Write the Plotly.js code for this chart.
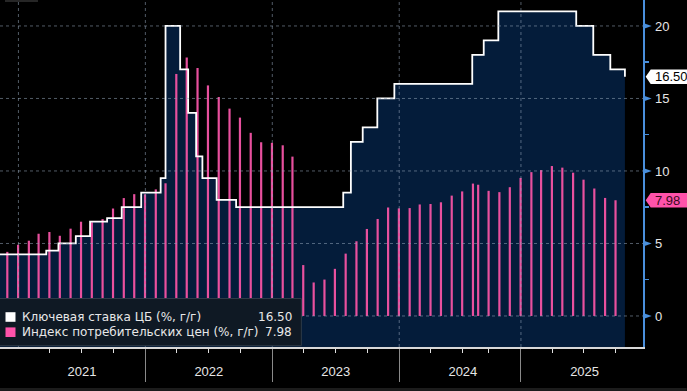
<!DOCTYPE html>
<html><head><meta charset="utf-8">
<script src="https://cdn.plot.ly/plotly-3.0.1.min.js"></script>
<style>html,body{margin:0;padding:0;background:#000;overflow:hidden}</style>
</head><body><div id="chart" style="width:687px;height:391px"></div>
<script>
// ---- Data ----
const rateDates = ['2020-07-27','2021-03-22','2021-04-26','2021-06-15','2021-07-26','2021-09-13','2021-10-25','2021-12-20',
  '2022-02-14','2022-02-28','2022-04-11','2022-05-04','2022-05-27','2022-06-14','2022-07-25','2022-09-19',
  '2023-07-24','2023-08-15','2023-09-18','2023-10-30','2023-12-18',
  '2024-07-29','2024-09-16','2024-10-28','2025-06-09','2025-07-28','2025-09-15','2025-10-27'];
const rateValues = [4.25,4.5,5,5.5,6.5,6.75,7.5,8.5,
  9.5,20,17,14,11,9.5,8,7.5,
  8.5,12,13,15,16,
  18,19,21,20,18,17,16.5];

const cpiMonths = ['2020-11','2020-12',
  '2021-01','2021-02','2021-03','2021-04','2021-05','2021-06','2021-07','2021-08','2021-09','2021-10','2021-11','2021-12',
  '2022-01','2022-02','2022-03','2022-04','2022-05','2022-06','2022-07','2022-08','2022-09','2022-10','2022-11','2022-12',
  '2023-01','2023-02','2023-03','2023-04','2023-05','2023-06','2023-07','2023-08','2023-09','2023-10','2023-11','2023-12',
  '2024-01','2024-02','2024-03','2024-04','2024-05','2024-06','2024-07','2024-08','2024-09','2024-10','2024-11','2024-12',
  '2025-01','2025-02','2025-03','2025-04','2025-05','2025-06','2025-07','2025-08','2025-09'];
const cpiValues = [4.42,4.91,
  5.19,5.67,5.79,5.53,6.02,6.50,6.46,6.68,7.41,8.13,8.40,8.39,
  8.73,9.15,16.69,17.83,17.10,15.90,15.10,14.30,13.68,12.63,11.98,11.94,
  11.77,10.99,3.51,2.31,2.51,3.25,4.30,5.15,6.00,6.69,7.48,7.42,
  7.44,7.69,7.72,7.84,8.30,8.59,9.13,9.05,8.63,8.54,8.88,9.52,
  9.92,10.06,10.34,10.23,9.88,9.40,8.79,8.14,7.98];

const seriesNames = ['Ключевая ставка ЦБ (%, г/г)', 'Индекс потребительских цен (%, г/г)'];
const yTicks = [0, 5, 10, 15, 20];
const yearStarts = ['2021-01-01','2022-01-01','2023-01-01','2024-01-01','2025-01-01'];

// ---- Style ----
const FONT = 'Liberation Sans, Arial, sans-serif';
const LFONT = 'DejaVu Sans, Verdana, sans-serif';
const NAVY = '#041c3a';
const PINK = '#e8509e';
const PINK_TAG = '#ff52aa';
const BLUE = '#4a8fdc';
const yMin = -2.14, yMax = 21.79;
const PW = 643.3, PH = 347; // plot area px
const px = p => p / PW;            // px -> paper x
const py = p => (PH - p) / PH;     // px from top -> paper y
const yUnitPx = PH / (yMax - yMin);

// month-end dates for monthly CPI
const cpiDates = cpiMonths.map(m => {
  const [y, mo] = m.split('-').map(Number);
  const d = new Date(Date.UTC(y, mo, 0));
  return d.toISOString().slice(0, 10);
});

// thin vertical bars as line segments (so they can sit above the filled area)
const barX = [], barY = [];
cpiDates.forEach((d, i) => { barX.push(d, d, null); barY.push(0, cpiValues[i], null); });

const lastRate = rateValues[rateValues.length - 1];
const lastCpi = cpiValues[cpiValues.length - 1];

const traces = [
  { x: rateDates, y: rateDates.map(() => yMin - 5), type: 'scatter', mode: 'lines',
    line: { width: 0, shape: 'hv' }, hoverinfo: 'skip', showlegend: false },
  { x: rateDates, y: rateValues, type: 'scatter', mode: 'lines',
    line: { width: 0, shape: 'hv' }, fill: 'tonexty', fillcolor: NAVY, showlegend: false },
  { x: barX, y: barY, type: 'scatter', mode: 'lines', name: seriesNames[1],
    line: { color: PINK, width: 2.2 }, connectgaps: false, showlegend: false },
  { x: rateDates, y: rateValues, type: 'scatter', mode: 'lines', name: seriesNames[0],
    line: { color: '#ffffff', width: 1.8, shape: 'hv' }, showlegend: false }
];

const shapes = [];
const gridLine = { color: 'rgba(150,165,185,0.55)', width: 1, dash: '3px,3px' };
yTicks.forEach(v => shapes.push({ type: 'line', xref: 'paper', yref: 'y', x0: 0, x1: 1, y0: v, y1: v, line: gridLine, layer: 'above' }));
yearStarts.forEach(d => shapes.push({ type: 'line', xref: 'x', yref: 'paper', x0: d, x1: d, y0: 0, y1: 1, line: gridLine, layer: 'above' }));

// axis triangles
const triH = 3 / yUnitPx;
yTicks.forEach(v => shapes.push({ type: 'path', xref: 'paper', yref: 'y', layer: 'above',
  path: `M ${px(643.5)} ${v + triH} L ${px(652)} ${v} L ${px(643.5)} ${v - triH} Z`,
  fillcolor: BLUE, line: { width: 0 } }));

// value tags
function tag(v, fill) {
  const h = 7.2 / yUnitPx;
  shapes.push({ type: 'path', xref: 'paper', yref: 'y', layer: 'above',
    path: `M ${px(646)} ${v} L ${px(651)} ${v + h} L ${px(700)} ${v + h} L ${px(700)} ${v - h} L ${px(651)} ${v - h} Z`,
    fillcolor: fill, line: { width: 0 } });
}
tag(lastRate, '#ffffff');
tag(lastCpi, PINK_TAG);

// legend box
shapes.push({ type: 'rect', xref: 'paper', yref: 'paper', layer: 'above',
  x0: px(-2), x1: px(301.5), y0: py(345.7), y1: py(298.5),
  fillcolor: '#0f1924', line: { color: '#2e3a47', width: 1 } });
shapes.push({ type: 'rect', xref: 'paper', yref: 'paper', layer: 'above',
  x0: px(5.5), x1: px(15.5), y0: py(321.8), y1: py(312.2), fillcolor: '#ffffff', line: { width: 0 } });
shapes.push({ type: 'rect', xref: 'paper', yref: 'paper', layer: 'above',
  x0: px(5.5), x1: px(15.5), y0: py(337), y1: py(327.4), fillcolor: PINK_TAG, line: { width: 0 } });

// decorative strips
shapes.push({ type: 'rect', xref: 'paper', yref: 'paper', x0: px(0), x1: px(687), y0: py(391), y1: py(388),
  fillcolor: '#1c1c1c', line: { width: 0 } });
shapes.push({ type: 'rect', xref: 'paper', yref: 'paper', x0: px(5), x1: px(38), y0: py(2), y1: py(0),
  fillcolor: '#262626', line: { width: 0 }, layer: 'above' });

const legFont = { family: LFONT, size: 12, color: '#e8e8e8' };
const annotations = [
  { xref: 'paper', yref: 'paper', x: px(20.5), y: py(317), xanchor: 'left', yanchor: 'middle', text: seriesNames[0], showarrow: false, font: legFont },
  { xref: 'paper', yref: 'paper', x: px(20.5), y: py(332), xanchor: 'left', yanchor: 'middle', text: seriesNames[1], showarrow: false, font: legFont },
  { xref: 'paper', yref: 'paper', x: px(294.5), y: py(317), xanchor: 'right', yanchor: 'middle', text: lastRate.toFixed(2), showarrow: false, font: legFont },
  { xref: 'paper', yref: 'paper', x: px(294.5), y: py(332), xanchor: 'right', yanchor: 'middle', text: lastCpi.toFixed(2), showarrow: false, font: legFont },
  { xref: 'paper', yref: 'y', x: px(653.5), y: lastRate, xanchor: 'left', yanchor: 'middle', text: lastRate.toFixed(2), showarrow: false,
    font: { family: FONT, size: 13, color: '#000' } },
  { xref: 'paper', yref: 'y', x: px(653.5), y: lastCpi, xanchor: 'left', yanchor: 'middle', text: lastCpi.toFixed(2), showarrow: false,
    font: { family: FONT, size: 13, color: '#3a0a20' } }
];

const layout = {
  width: 687, height: 391,
  margin: { l: 0, r: 44, t: 0, b: 44 },
  paper_bgcolor: '#000', plot_bgcolor: '#000',
  showlegend: false, hovermode: false,
  xaxis: {
    type: 'date', range: ['2020-11-09', '2025-12-18'],
    rangebreaks: [{ bounds: ['2024-08-02', '2024-08-18'] }],
    showgrid: false, zeroline: false,
    showline: true, linecolor: '#d8d8d8', linewidth: 1.5,
    ticks: 'outside', ticklen: 33, tickwidth: 1, tickcolor: '#8a8a8a',
    tick0: '2021-01-01', dtick: 'M12', tickformat: '%Y', ticklabelmode: 'period',
    ticklabelstandoff: -21,
    tickfont: { family: FONT, size: 13, color: '#e6e6e6' },
    minor: { dtick: 'M3', ticks: 'outside', ticklen: 4, tickwidth: 1, tickcolor: '#e0e0e0', showgrid: false }
  },
  yaxis: {
    side: 'right', range: [yMin, yMax],
    tickvals: yTicks, ticktext: yTicks.map(String),
    showgrid: false, zeroline: false,
    showline: true, linecolor: BLUE, linewidth: 1.5,
    ticks: 'outside', ticklen: 8, tickcolor: 'rgba(0,0,0,0)',
    tickfont: { family: FONT, size: 13, color: '#e6e6e6' },
    minor: { tick0: 0, dtick: 2.5, ticks: 'outside', ticklen: 4, tickwidth: 1.5, tickcolor: BLUE, showgrid: false }
  },
  shapes: shapes,
  annotations: annotations
};

Plotly.newPlot('chart', traces, layout, { staticPlot: true, displayModeBar: false });
</script>
</body></html>
